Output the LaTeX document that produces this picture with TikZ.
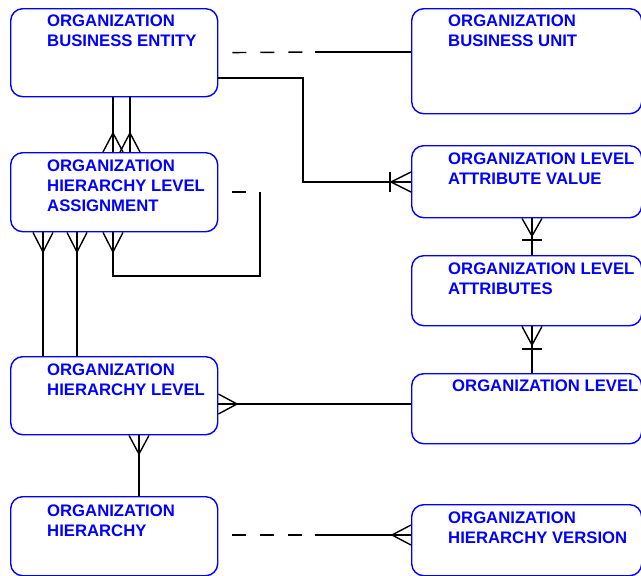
\documentclass[tikz,border=0pt]{standalone}
\usepackage{fontspec}
\newfontfamily\erfont{Liberation Sans}
\usetikzlibrary{calc}

\tikzset{
  entity/.style={draw=blue, line width=1.4pt, rounded corners=12pt,
    anchor=north west, inner sep=0pt},
  etext/.style={anchor=north west, align=left, inner sep=0pt, text=blue,
    font=\erfont\bfseries\fontsize{16.7}{20}\selectfont},
  link/.style={draw=black, line width=1.4pt},
  optional/.style={link, dash pattern=on 14pt off 14pt, dash phase=14pt},
}

\begin{document}
\begin{tikzpicture}[x=1pt, y=-1pt]

  \useasboundingbox (0,0) rectangle (641,576);

  %-------------------------
  % Left column: entities
  %-------------------------
  \node[entity, minimum width=207pt, minimum height=88pt] (be)  at (10,8)   {};
  \node[entity, minimum width=207pt, minimum height=79pt] (hla) at (10,152) {};
  \node[entity, minimum width=207pt, minimum height=78pt] (hl)  at (10,356) {};
  \node[entity, minimum width=207pt, minimum height=79pt] (h)   at (10,496) {};

  \node[etext] (be-txt)  at ($(be.north west)+(37,7)$)  {ORGANIZATION\\BUSINESS ENTITY};
  \node[etext] (hla-txt) at ($(hla.north west)+(37,8)$) {ORGANIZATION\\HIERARCHY LEVEL\\ASSIGNMENT};
  \node[etext] (hl-txt)  at ($(hl.north west)+(37,8)$)  {ORGANIZATION\\HIERARCHY LEVEL};
  \node[etext] (h-txt)   at ($(h.north west)+(37,9)$)   {ORGANIZATION\\HIERARCHY};

  %-------------------------
  % Right column: entities
  %-------------------------
  \node[entity, minimum width=230pt, minimum height=105pt] (bu)  at (411,8)   {};
  \node[entity, minimum width=230pt, minimum height=72pt]  (lav) at (411,145) {};
  \node[entity, minimum width=230pt, minimum height=70pt]  (la)  at (411,255) {};
  \node[entity, minimum width=230pt, minimum height=70pt]  (l)   at (411,373) {};
  \node[entity, minimum width=230pt, minimum height=71pt]  (hv)  at (411,504) {};

  \node[etext] (bu-txt)  at ($(bu.north west)+(37,7)$)  {ORGANIZATION\\BUSINESS UNIT};
  \node[etext] (lav-txt) at ($(lav.north west)+(37,8)$) {ORGANIZATION LEVEL\\ATTRIBUTE VALUE};
  \node[etext] (la-txt)  at ($(la.north west)+(37,8)$)  {ORGANIZATION LEVEL\\ATTRIBUTES};
  \node[etext] (l-txt)   at ($(l.north west)+(41,7)$)   {ORGANIZATION LEVEL};
  \node[etext] (hv-txt)  at ($(hv.north west)+(37,8)$)  {ORGANIZATION\\HIERARCHY VERSION};

  %-------------------------
  % Relationships
  %-------------------------

  % business entity -- business unit
  \coordinate (m1) at (315,52);
  \draw[optional] (be.east) -- (m1);
  \draw[link] (m1) -- (bu.west |- m1);

  % business entity -- level attribute value
  \coordinate (c1) at (303,78);
  \coordinate (c2) at (303,182);
  \coordinate (f1) at (391,182);
  \draw[link] (be.east |- c1) -- (c1) -- (c2) -- (lav.west |- c2);
  \draw[link] ($(lav.west |- f1)+(0,-10)$) -- (f1) -- ($(lav.west |- f1)+(0,10)$);
  \draw[link] (390,172) -- (390,192);

  % business entity -- hierarchy level assignment (two links)
  \coordinate (f2) at (113,133);
  \coordinate (f3) at (130,133);
  \draw[link] (be.south -| f2) -- (hla.north -| f2);
  \draw[link] (be.south -| f3) -- (hla.north -| f3);
  \draw[link] ($(hla.north -| f2)+(-10,0)$) -- (f2) -- ($(hla.north -| f2)+(10,0)$);
  \draw[link] ($(hla.north -| f3)+(-10,0)$) -- (f3) -- ($(hla.north -| f3)+(10,0)$);

  % hierarchy level assignment -- itself
  \coordinate (r1) at (260,192);
  \coordinate (r2) at (260,276);
  \coordinate (r3) at (113,276);
  \coordinate (f4) at (113,252);
  \draw[optional] (hla.east |- r1) -- (r1);
  \draw[link] (r1) -- (r2) -- (r3) -- (hla.south -| r3);
  \draw[link] ($(hla.south -| f4)+(-10,0)$) -- (f4) -- ($(hla.south -| f4)+(10,0)$);

  % hierarchy level assignment -- hierarchy level (two links)
  \coordinate (f5) at (43,252);
  \coordinate (f6) at (77,252);
  \draw[link] (hla.south -| f5) -- (hl.north -| f5);
  \draw[link] (hla.south -| f6) -- (hl.north -| f6);
  \draw[link] ($(hla.south -| f5)+(-10,0)$) -- (f5) -- ($(hla.south -| f5)+(10,0)$);
  \draw[link] ($(hla.south -| f6)+(-10,0)$) -- (f6) -- ($(hla.south -| f6)+(10,0)$);

  % hierarchy level -- level
  \coordinate (f7) at (237,404);
  \draw[link] (hl.east |- f7) -- (l.west |- f7);
  \draw[link] ($(hl.east |- f7)+(0,-10)$) -- (f7) -- ($(hl.east |- f7)+(0,10)$);

  % hierarchy level -- hierarchy
  \coordinate (f8) at (139,454);
  \draw[link] (hl.south -| f8) -- (h.north -| f8);
  \draw[link] ($(hl.south -| f8)+(-10,0)$) -- (f8) -- ($(hl.south -| f8)+(10,0)$);

  % hierarchy -- hierarchy version
  \coordinate (m2) at (315,535);
  \coordinate (f9) at (392,535);
  \draw[optional] (h.east |- m2) -- (m2);
  \draw[link] (m2) -- (hv.west |- m2);
  \draw[link] ($(hv.west |- f9)+(0,-10)$) -- (f9) -- ($(hv.west |- f9)+(0,10)$);

  % level attribute value -- level attributes
  \coordinate (f10) at (532,236);
  \draw[link] (lav.south -| f10) -- (la.north -| f10);
  \draw[link] ($(lav.south -| f10)+(-10,0)$) -- (f10) -- ($(lav.south -| f10)+(10,0)$);
  \draw[link] (522,240) -- (542,240);

  % level attributes -- level
  \coordinate (f11) at (532,345);
  \draw[link] (la.south -| f11) -- (l.north -| f11);
  \draw[link] ($(la.south -| f11)+(-10,0)$) -- (f11) -- ($(la.south -| f11)+(10,0)$);
  \draw[link] (522,349) -- (542,349);

\end{tikzpicture}
\end{document}
